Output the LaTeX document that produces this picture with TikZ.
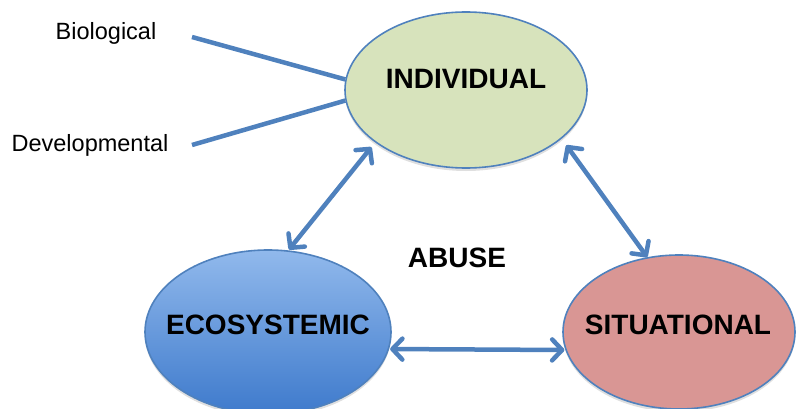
\documentclass[tikz,border=0pt]{standalone}
\usepackage{fontspec}
\setmainfont{Liberation Sans}
\usetikzlibrary{shapes.geometric,arrows.meta,shadows}
\definecolor{lineblue}{RGB}{79,129,189}
\definecolor{indgreen}{RGB}{215,227,188}
\definecolor{ecotop}{RGB}{145,185,236}
\definecolor{ecobot}{RGB}{62,122,204}
\definecolor{sitrose}{RGB}{217,150,148}
\tikzset{
  ell/.style={ellipse, draw=lineblue, line width=1.6pt, inner sep=0pt,
    drop shadow={opacity=0.25, shadow xshift=0pt, shadow yshift=-3pt}},
  big/.style={font=\fontsize{28}{30}\selectfont\bfseries},
  small/.style={font=\fontsize{23.5}{26}\selectfont},
  conn/.style={draw=lineblue, line width=4.5pt},
  tipbarb/.tip={Straight Barb[length=10pt,width=21pt,round]},
  dbl/.style={conn, line cap=round, tipbarb-tipbarb}
}
\begin{document}
\begin{tikzpicture}[x=1pt,y=-1pt]
\useasboundingbox (0,0) rectangle (797,409);
\node[ell, fill=indgreen, minimum width=242pt, minimum height=156pt] (ind) at (466,90) {};
\node[ell, top color=ecotop, bottom color=ecobot, minimum width=246pt, minimum height=164pt] (eco) at (268,332) {};
\node[ell, fill=sitrose, minimum width=232pt, minimum height=154pt] (sit) at (679,332) {};
\node[big] (indt) at (466,79) {INDIVIDUAL};
\node[big] (ecot) at (268,325) {ECOSYSTEMIC};
\node[big] (sitt) at (678,325) {SITUATIONAL};
\node[big] (abuse) at (457,258) {ABUSE};
\node[small] (bio) at (106,33) {Biological};
\node[small] (dev) at (90,145) {Developmental};
\coordinate (b1) at (192,37);
\coordinate (d1) at (192,145);
\draw[conn] (b1) -- (ind.175);
\draw[conn] (d1) -- (ind.185);
\draw[dbl, shorten >=6pt, shorten <=1pt] (eco.76) -- (ind.210);
\draw[dbl, shorten <=8pt, shorten >=0pt] (ind.-27) -- (sit.113);
\draw[dbl, shorten <=1pt, shorten >=1pt] (eco.-8) -- (sit.189);
\end{tikzpicture}
\end{document}
